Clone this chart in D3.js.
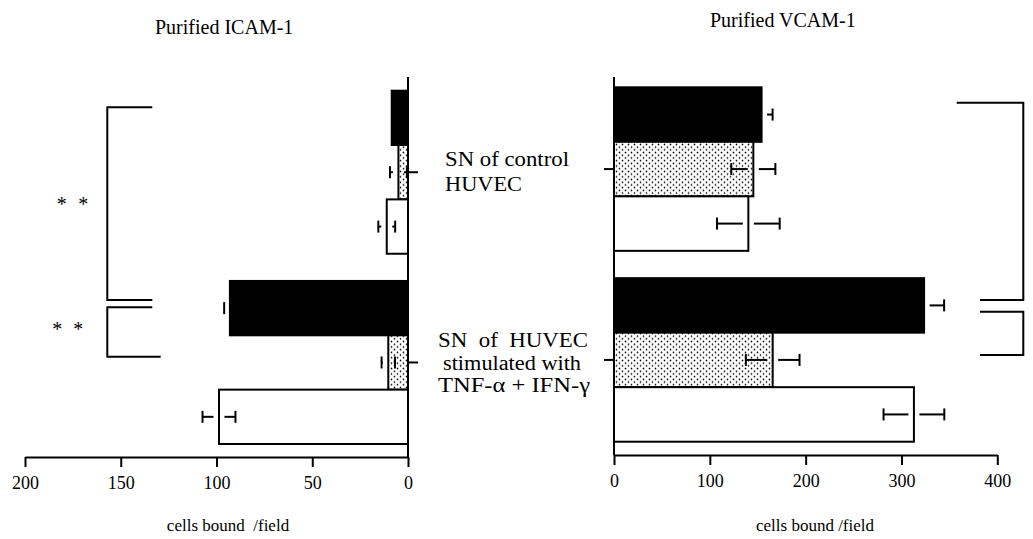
<!DOCTYPE html>
<html>
<head>
<meta charset="utf-8">
<script src="https://cdn.jsdelivr.net/npm/d3@7"></script>
<style>
  html, body { margin: 0; padding: 0; background: #fff; }
  svg { display: block; }
  svg text { font-family: "Liberation Serif", "Times New Roman", Times, serif !important; fill: #000; }
</style>
</head>
<body>
<svg id="chart" width="1033" height="539"></svg>
<script>
// ---------------- DATA ----------------
const groups = ["SN of control HUVEC", "SN of HUVEC stimulated with TNF-α + IFN-γ"];
const series = ["black", "dotted", "white"];

// Purified ICAM-1 (cells bound /field)
const icamValues = [[8.5, 5.0, 11.1], [93.0, 10.3, 98.7]];
const icamErrors = [[0, 4.4, 4.4], [3.0, 3.5, 8.6]];

// Purified VCAM-1 (cells bound /field)
const vcamValues = [[154.0, 145.4, 140.2], [323.6, 165.6, 313.0]];
const vcamErrors = [[11.5, 23.0, 32.7], [20.9, 28.0, 31.7]];

const icamTicks = [200, 150, 100, 50, 0];
const vcamTicks = [0, 100, 200, 300, 400];

const titles = ["Purified ICAM-1", "Purified VCAM-1"];
const axisLabels = ["cells bound  /field", "cells bound /field"];
const groupLabel1 = ["SN of control", "HUVEC"];
const groupLabel2 = ["SN  of  HUVEC", "stimulated with", "TNF-α + IFN-γ"];

// ---------------- DRAW ----------------
const SERIF = "Liberation Serif, Times New Roman, serif";
const svg = d3.select("#chart");
const defs = svg.append("defs");
const pat = defs.append("pattern")
  .attr("id", "dots").attr("patternUnits", "userSpaceOnUse")
  .attr("width", 6).attr("height", 5.4);
pat.append("rect").attr("width", 6).attr("height", 5.4).attr("fill", "#fff");
pat.append("circle").attr("cx", 1.5).attr("cy", 1.3).attr("r", 0.85).attr("fill", "#000");
pat.append("circle").attr("cx", 4.5).attr("cy", 4.0).attr("r", 0.85).attr("fill", "#000");

const fills = { black: "#000", dotted: "url(#dots)", white: "#fff" };

function panel(cfg) {
  const g = svg.append("g");
  const x = d3.scaleLinear().domain(cfg.domain).range(cfg.xRange);
  const y0 = d3.scaleBand().domain(groups).range(cfg.yRange).paddingInner(0.143).paddingOuter(0);
  const y1 = d3.scaleBand().domain(series).range([0, y0.bandwidth()]).padding(0);
  const x0 = x(0);

  const rows = [];
  groups.forEach((gr, gi) => series.forEach((s, si) => {
    rows.push({ group: gr, s, v: cfg.values[gi][si], e: cfg.errors[gi][si] });
  }));

  g.selectAll("rect.bar").data(rows).join("rect")
    .attr("class", "bar")
    .attr("x", d => Math.min(x0, x(d.v)))
    .attr("width", d => Math.abs(x(d.v) - x0))
    .attr("y", d => y0(d.group) + y1(d.s))
    .attr("height", y1.bandwidth())
    .attr("fill", d => fills[d.s])
    .attr("stroke", "#000").attr("stroke-width", 2);

  const gap = 5.5, cap = 6;
  rows.filter(d => d.e > 0).forEach(d => {
    const cy = y0(d.group) + y1(d.s) + y1.bandwidth() / 2;
    const xe = x(d.v);
    const dir = Math.sign(x(d.v + 1) - x(d.v));
    const xOut = x(d.v + d.e), xIn = x(d.v - d.e);
    const eg = g.append("g").attr("stroke", "#000").attr("stroke-width", 2).attr("fill", "none");
    eg.append("line").attr("x1", xe + dir * gap).attr("x2", xOut).attr("y1", cy).attr("y2", cy);
    eg.append("line").attr("x1", xOut).attr("x2", xOut).attr("y1", cy - cap).attr("y2", cy + cap);
    if (d.s !== "black") {
      eg.append("line").attr("x1", xe - dir * gap).attr("x2", xIn).attr("y1", cy).attr("y2", cy);
      eg.append("line").attr("x1", xIn).attr("x2", xIn).attr("y1", cy - cap).attr("y2", cy + cap);
    }
  });

  const ax = g.append("g").attr("transform", `translate(0,${cfg.axisY})`)
    .call(d3.axisBottom(x).tickValues(cfg.ticks).tickSize(10).tickSizeOuter(0).tickPadding(9));
  ax.attr("font-family", SERIF).attr("font-size", 18);
  ax.select(".domain").attr("stroke-width", 2);
  ax.selectAll(".tick line").attr("stroke-width", 2);

  g.append("line").attr("x1", x0).attr("x2", x0).attr("y1", cfg.axisTop).attr("y2", cfg.axisY)
    .attr("stroke", "#000").attr("stroke-width", 2);
  const cat = g.append("g").attr("transform", `translate(${x0},0)`)
    .call((cfg.catSide === "right" ? d3.axisRight(y0) : d3.axisLeft(y0)).tickSize(10).tickSizeOuter(0).tickFormat(""));
  cat.select(".domain").remove();
  cat.selectAll(".tick line").attr("stroke-width", 2);

  svg.append("text").attr("x", cfg.titleX).attr("y", cfg.titleY).attr("font-size", 20).text(cfg.title);
  svg.append("text").attr("x", cfg.labelX).attr("y", 531).attr("text-anchor", "middle")
    .attr("font-size", 17).style("white-space", "pre").text(cfg.label);
}

panel({
  domain: [0, 200], xRange: [408, 25], yRange: [90.7, 444], axisY: 457, axisTop: 77,
  values: icamValues, errors: icamErrors, ticks: icamTicks, catSide: "right",
  title: titles[0], titleX: 155, titleY: 34, label: axisLabels[0], labelX: 228
});
panel({
  domain: [0, 400], xRange: [614, 997.3], yRange: [87.3, 441.7], axisY: 455, axisTop: 77,
  values: vcamValues, errors: vcamErrors, ticks: vcamTicks, catSide: "left",
  title: titles[1], titleX: 710, titleY: 27, label: axisLabels[1], labelX: 815
});

const br = svg.append("g").attr("fill", "none").attr("stroke", "#000").attr("stroke-width", 2);
br.append("path").attr("d", "M152.3,107.3H107.3V300H152.3");
br.append("path").attr("d", "M152.3,307.3H107.3V356.7H160.7");
br.append("path").attr("d", "M956.7,102.7H1023.3V300H980");
br.append("path").attr("d", "M980,311.7H1023.3V355H980");

const stars = [[61.7, 201.7], [83.3, 201.7], [57.3, 327.3], [78.3, 327.3]];
svg.selectAll("text.star").data(stars).join("text").attr("class", "star")
  .attr("x", d => d[0]).attr("y", d => d[1] + 9).attr("text-anchor", "middle")
  .attr("font-size", 20).text("*");

// group labels (widths matched to the reference)
const lab1Pos = [[445, 166, 124], [445, 191, 77]];
groupLabel1.forEach((t, i) => {
  svg.append("text").attr("x", lab1Pos[i][0]).attr("y", lab1Pos[i][1]).attr("font-size", 20)
    .attr("textLength", lab1Pos[i][2]).attr("lengthAdjust", "spacingAndGlyphs").text(t);
});
const lab2Pos = [[438, 347, 150], [443, 370, 138], [438, 392, 152]];
groupLabel2.forEach((t, i) => {
  svg.append("text").attr("x", lab2Pos[i][0]).attr("y", lab2Pos[i][1]).attr("font-size", 20)
    .style("white-space", "pre")
    .attr("textLength", lab2Pos[i][2]).attr("lengthAdjust", "spacingAndGlyphs").text(t);
});
</script>
</body>
</html>
